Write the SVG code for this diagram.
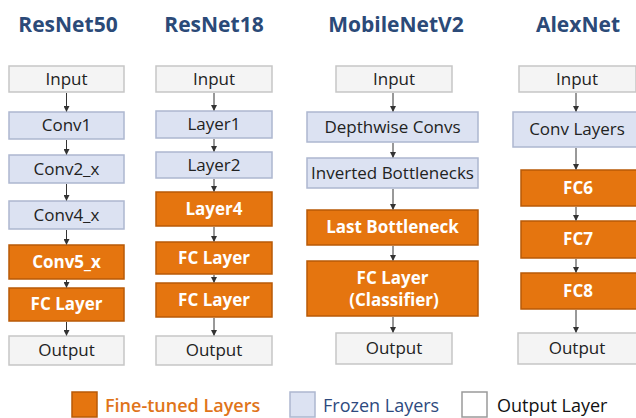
<svg xmlns="http://www.w3.org/2000/svg" width="636" height="418" viewBox="0 0 636 418">
<defs>
<marker id="ah" markerWidth="6" markerHeight="6" refX="5" refY="3" orient="auto" markerUnits="userSpaceOnUse">
<path d="M0,0 L6,3 L0,6 z" fill="#333"/>
</marker>
<style>
.title{font-family:"Open Sans","Noto Sans",sans-serif;font-weight:700;font-size:21px;fill:#2b4a78;text-anchor:middle}
.b{stroke-width:1.5}
.io{fill:#f4f4f4;stroke:#c6c6c6}
.fz{fill:#dce2f2;stroke:#adb7cf}
.ft{fill:#e5750f;stroke:#b85a07}
.t{font-family:"Open Sans","Noto Sans",sans-serif;font-size:17px;fill:#222;text-anchor:middle}
.tw{font-family:"Open Sans","Noto Sans",sans-serif;font-size:17px;font-weight:700;fill:#fff;text-anchor:middle}
.conn line{stroke:#333;stroke-width:1;marker-end:url(#ah)}
.lg{font-family:"Open Sans","Noto Sans",sans-serif;font-size:18px}
</style>
</defs>
<rect width="636" height="418" fill="#ffffff"/>

<text class="title" x="68" y="32">ResNet50</text>
<text class="title" x="214" y="32">ResNet18</text>
<text class="title" x="396" y="32">MobileNetV2</text>
<text class="title" x="578" y="32">AlexNet</text>

<!-- ResNet50 -->
<g id="r50-input"><rect class="b io" x="9" y="66" width="115" height="26"/><text class="t" x="66.5" y="85">Input</text></g>
<g id="r50-conv1"><rect class="b fz" x="9" y="112" width="115" height="27"/><text class="t" x="66.5" y="131">Conv1</text></g>
<g id="r50-conv2"><rect class="b fz" x="9" y="155" width="115" height="28"/><text class="t" x="66.5" y="175">Conv2_x</text></g>
<g id="r50-conv4"><rect class="b fz" x="9" y="201" width="115" height="28"/><text class="t" x="66.5" y="221">Conv4_x</text></g>
<g id="r50-conv5"><rect class="b ft" x="9" y="245" width="115" height="34"/><text class="tw" x="66.5" y="268">Conv5_x</text></g>
<g id="r50-fc"><rect class="b ft" x="9" y="288" width="115" height="33"/><text class="tw" x="66.5" y="310">FC Layer</text></g>
<g id="r50-output"><rect class="b io" x="9" y="336" width="115" height="29"/><text class="t" x="66.5" y="356">Output</text></g>

<!-- ResNet18 -->
<g id="r18-input"><rect class="b io" x="156" y="66" width="116" height="26"/><text class="t" x="214" y="85">Input</text></g>
<g id="r18-layer1"><rect class="b fz" x="156" y="111" width="116" height="27"/><text class="t" x="214" y="130">Layer1</text></g>
<g id="r18-layer2"><rect class="b fz" x="156" y="152" width="116" height="26"/><text class="t" x="214" y="171">Layer2</text></g>
<g id="r18-layer4"><rect class="b ft" x="156" y="192" width="116" height="34"/><text class="tw" x="214" y="215">Layer4</text></g>
<g id="r18-fc1"><rect class="b ft" x="156" y="242" width="116" height="32"/><text class="tw" x="214" y="264">FC Layer</text></g>
<g id="r18-fc2"><rect class="b ft" x="156" y="283" width="116" height="34"/><text class="tw" x="214" y="306">FC Layer</text></g>
<g id="r18-output"><rect class="b io" x="156" y="336" width="116" height="29"/><text class="t" x="214" y="356">Output</text></g>

<!-- MobileNetV2 -->
<g id="mb-input"><rect class="b io" x="336" y="66" width="116" height="26"/><text class="t" x="394" y="85">Input</text></g>
<g id="mb-depthwise"><rect class="b fz" x="307" y="112" width="171" height="30"/><text class="t" x="392.5" y="133">Depthwise Convs</text></g>
<g id="mb-inverted"><rect class="b fz" x="307" y="158" width="171" height="30"/><text class="t" x="392.5" y="179">Inverted Bottlenecks</text></g>
<g id="mb-last"><rect class="b ft" x="307" y="210" width="171" height="35"/><text class="tw" x="392.5" y="233">Last Bottleneck</text></g>
<g id="mb-fc"><rect class="b ft" x="307" y="261" width="171" height="55"/><text class="tw" x="392.5" y="284">FC Layer</text><text class="tw" x="394" y="306">(Classifier)</text></g>
<g id="mb-output"><rect class="b io" x="336" y="333" width="116" height="31"/><text class="t" x="394" y="354">Output</text></g>

<!-- AlexNet -->
<g id="ax-input"><rect class="b io" x="519" y="66" width="117" height="26"/><text class="t" x="577" y="85">Input</text></g>
<g id="ax-conv"><rect class="b fz" x="513" y="112" width="128" height="35"/><text class="t" x="577" y="135">Conv Layers</text></g>
<g id="ax-fc6"><rect class="b ft" x="521" y="170" width="118" height="36"/><text class="tw" x="578" y="194">FC6</text></g>
<g id="ax-fc7"><rect class="b ft" x="521" y="221" width="118" height="37"/><text class="tw" x="578" y="245">FC7</text></g>
<g id="ax-fc8"><rect class="b ft" x="521" y="273" width="118" height="36"/><text class="tw" x="578" y="297">FC8</text></g>
<g id="ax-output"><rect class="b io" x="518" y="333" width="120" height="31"/><text class="t" x="577" y="354">Output</text></g>

<g id="connectors" class="conn">
<line x1="66.5" y1="93" x2="66.5" y2="111"/>
<line x1="66.5" y1="140" x2="66.5" y2="154"/>
<line x1="66.5" y1="184" x2="66.5" y2="200"/>
<line x1="66.5" y1="230" x2="66.5" y2="244"/>
<line x1="66.5" y1="280" x2="66.5" y2="287"/>
<line x1="66.5" y1="322" x2="66.5" y2="335"/>

<line x1="214" y1="93" x2="214" y2="110"/>
<line x1="214" y1="139" x2="214" y2="151"/>
<line x1="214" y1="179" x2="214" y2="191"/>
<line x1="214" y1="227" x2="214" y2="241"/>
<line x1="214" y1="275" x2="214" y2="282"/>
<line x1="214" y1="318" x2="214" y2="335"/>

<line x1="393" y1="93" x2="393" y2="111"/>
<line x1="393" y1="143" x2="393" y2="157"/>
<line x1="393" y1="189" x2="393" y2="209"/>
<line x1="393" y1="246" x2="393" y2="260"/>
<line x1="393" y1="317" x2="393" y2="332"/>

<line x1="576" y1="93" x2="576" y2="111"/>
<line x1="576" y1="148" x2="576" y2="169"/>
<line x1="576" y1="207" x2="576" y2="220"/>
<line x1="576" y1="259" x2="576" y2="272"/>
<line x1="576" y1="310" x2="576" y2="332"/>
</g>

<g id="legend">
<rect x="72" y="392" width="25" height="25" fill="#e5750f" stroke="#b85a07" stroke-width="1.5"/>
<text class="lg" x="105" y="412" fill="#e0741a" font-weight="600">Fine-tuned Layers</text>
<rect x="290" y="392" width="25" height="25" fill="#dce2f2" stroke="#adb7cf" stroke-width="1.5"/>
<text class="lg" x="323" y="412" fill="#2e4a7e">Frozen Layers</text>
<rect x="462" y="392" width="25" height="25" fill="#ffffff" stroke="#9a9a9a" stroke-width="1.5"/>
<text class="lg" x="497" y="412" fill="#111">Output Layer</text>
</g>
</svg>
